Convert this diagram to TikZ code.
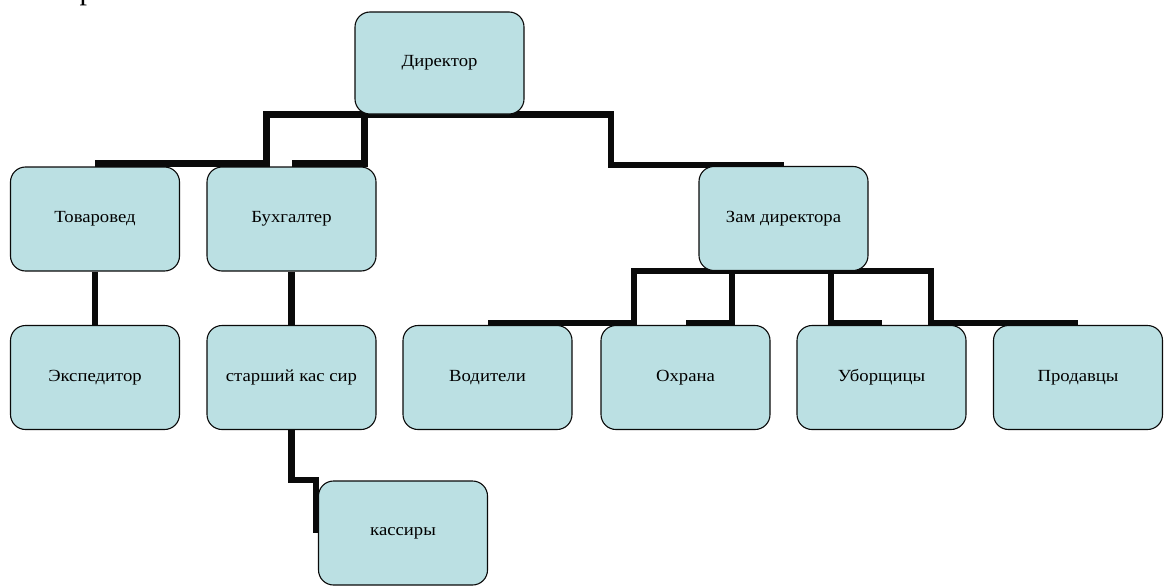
\documentclass[tikz,border=0pt]{standalone}
\usepackage{fontspec}
\usepackage{tikz}
\usetikzlibrary{backgrounds}
\newfontfamily\boxfont{Liberation Serif}[FakeStretch=1.1]
\newfontfamily\pagefont{Liberation Serif}
\definecolor{powder}{RGB}{187, 224, 227}
\definecolor{ink}{RGB}{10, 10, 10}

\begin{document}
\begin{tikzpicture}[x=1pt, y=-1pt,
    post/.style={draw=ink, line width=1.1pt, fill=powder, rounded corners=15pt,
                 minimum width=169pt, minimum height=104pt, inner sep=0pt,
                 font=\boxfont\fontsize{17}{20}\selectfont},
    link/.style={draw=ink, line width=6.5pt}]
            \useasboundingbox                                  (0, 0) rectangle (1166, 586);
            \node[anchor=base west, font=\pagefont\fontsize{30}{34}\selectfont] (pagetext) at (76, 0) {р};
            \node[post, minimum height=102pt] (dir)  at ( 439.5,  63.0) {Директор};
            \node[post]                       (tov)  at (  95.0, 219.0) {Товаровед};
            \node[post]                       (buh)  at ( 291.5, 219.0) {Бухгалтер};
            \node[post]                       (zam)  at ( 783.5, 218.5) {Зам директора};
            \node[post]                       (eksp) at (  95.0, 377.5) {Экспедитор};
            \node[post]                       (stk)  at ( 291.5, 377.5) {старший кас сир};
            \node[post]                       (vod)  at ( 487.5, 377.5) {Водители};
            \node[post]                       (ohr)  at ( 685.5, 377.5) {Охрана};
            \node[post]                       (ubo)  at ( 881.5, 377.5) {Уборщицы};
            \node[post]                       (prod) at (1078.0, 377.5) {Продавцы};
            \node[post]                       (kas)  at ( 403.0, 533.0) {кассиры};
            \begin{scope}[on background layer]
            \draw[link] (dir.south) -- ++(-173.0, 0) |- ([yshift=3pt]tov.north);
            \draw[link] (dir.south) -- ++( -75.0, 0) |- ([yshift=3pt]buh.north);
            \draw[link] (dir.south) -- ++( 171.5, 0) |- ([yshift=1pt]zam.north);
            \draw[link] (zam.south) -- ++(-149.5, 0) |- ([yshift=2pt]vod.north);
            \draw[link] (zam.south) -- ++( -51.5, 0) |- ([yshift=2pt]ohr.north);
            \draw[link] (zam.south) -- ++(  47.5, 0) |- ([yshift=2pt]ubo.north);
            \draw[link] (zam.south) -- ++( 147.5, 0) |- ([yshift=2pt]prod.north);
            \draw[link] (tov.south) -- (eksp.north);
            \draw[link] (buh.south) -- (stk.north);
            \draw[link] (stk.south) -- ++(0, 50) -| ([xshift=-2pt]kas.west);
            \end{scope}
            \end{tikzpicture}
\end{document}
